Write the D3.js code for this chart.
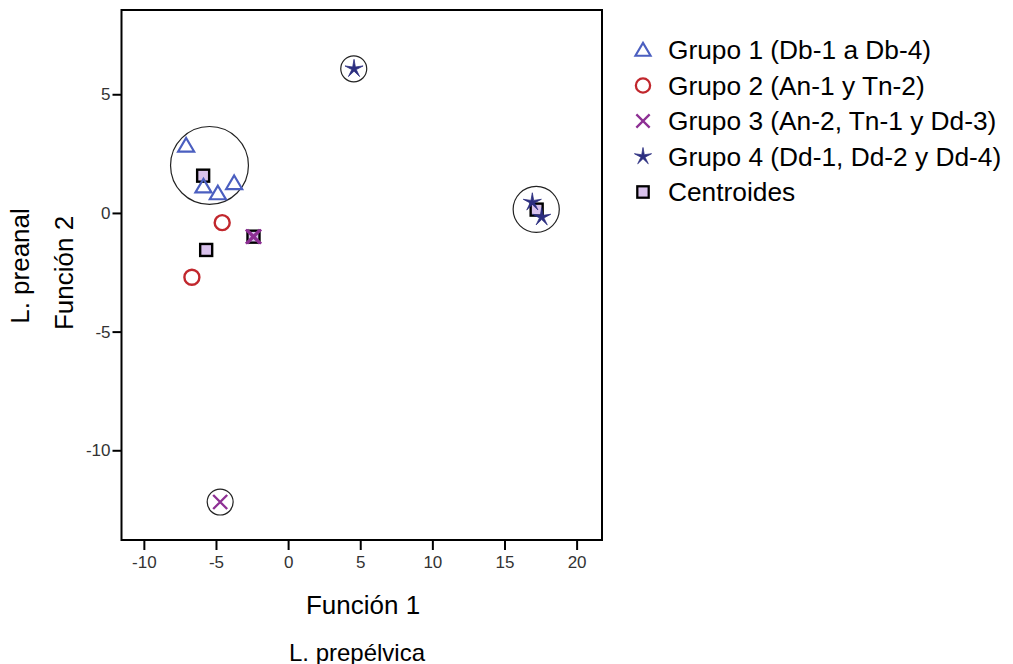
<!DOCTYPE html>
<html>
<head>
<meta charset="UTF-8">
<style>
  * { margin: 0; padding: 0; }
  html, body { width: 1013px; height: 664px; background: #fff; overflow: hidden; }
  svg { display: block; font-family: "Liberation Sans", Arial, sans-serif; }
</style>
<script src="https://cdn.jsdelivr.net/npm/d3@7"></script>
</head>
<body>
<svg id="chart" width="1013" height="664"></svg>
<script>
// --- data ---
var xTicks = [-10, -5, 0, 5, 10, 15, 20];
var yTicks = [5, 0, -5, -10];

var grupo1 = [[-7.07, 2.84], [-5.87, 1.12], [-4.87, 0.83], [-3.74, 1.26]];
var grupo2 = [[-4.57, -0.41], [-6.67, -2.71]];
var grupo3 = [[-2.45, -1.0], [-2.35, -1.0], [-4.71, -12.18]];
var grupo4 = [[4.57, 6.07], [16.93, 0.45], [17.58, -0.18]];
var centroides = [[-5.89, 1.57], [-5.68, -1.56], [-2.4, -1.0], [17.23, 0.14]];

// circled points: centre x, centre y, radius (in Función 1 units)
var circulos = [[-5.45, 2.0, 2.7], [4.55, 6.07, 0.9], [-4.71, -12.18, 0.9], [17.2, 0.15, 1.6]];

var legendLabels = [
  "Grupo 1 (Db-1 a Db-4)",
  "Grupo 2 (An-1 y Tn-2)",
  "Grupo 3 (An-2, Tn-1 y Dd-3)",
  "Grupo 4 (Dd-1, Dd-2 y Dd-4)",
  "Centroides"
];

var colors = { g1: "#4b5fc0", g2: "#c1272d", g3: "#8e3094", g4: "#2c2e80", cen: "#d9c2ec" };

var svg = d3.select("#chart");
var plotLeft = 121.5, plotRight = 602, plotTop = 10, plotBottom = 540;

var x = d3.scaleLinear().domain([-11.55, 21.76]).range([plotLeft, plotRight]);
var y = d3.scaleLinear().domain([-13.78, 8.55]).range([plotBottom, plotTop]);

// axes
var xAxis = d3.axisBottom(x).tickValues(xTicks).tickFormat(String).tickSize(10).tickPadding(6);
var yAxis = d3.axisLeft(y).tickValues(yTicks).tickFormat(String).tickSize(9).tickPadding(2);

var gx = svg.append("g").attr("transform", "translate(0," + plotBottom + ")").call(xAxis);
var gy = svg.append("g").attr("transform", "translate(" + plotLeft + ",0)").call(yAxis);
[gx, gy].forEach(function(g) {
  g.select(".domain").remove();
  g.selectAll(".tick line").attr("stroke", "#000").attr("stroke-width", 2);
  g.selectAll(".tick text").attr("fill", "#333").attr("font-size", "17px")
    .attr("font-family", "'Liberation Sans', Arial, sans-serif");
});

// frame
svg.append("rect")
  .attr("x", plotLeft).attr("y", plotTop)
  .attr("width", plotRight - plotLeft).attr("height", plotBottom - plotTop)
  .attr("fill", "none").attr("stroke", "#000").attr("stroke-width", 2);

// annotation circles
svg.append("g").selectAll("circle")
  .data(circulos).enter().append("circle")
  .attr("cx", function(d) { return x(d[0]); })
  .attr("cy", function(d) { return y(d[1]); })
  .attr("r", function(d) { return x(d[2]) - x(0); })
  .attr("fill", "none").attr("stroke", "#222").attr("stroke-width", 1.2);

// marker shapes
function triangle(g) {
  g.append("path").attr("d", "M0,-7.5L8,6L-8,6Z")
    .attr("fill", "none").attr("stroke", colors.g1).attr("stroke-width", 2.2);
}
function ring(g) {
  g.append("circle").attr("r", 7.5)
    .attr("fill", "none").attr("stroke", colors.g2).attr("stroke-width", 2.4);
}
function cross(g) {
  g.append("path").attr("d", "M-7,-7L7,7M-7,7L7,-7")
    .attr("fill", "none").attr("stroke", colors.g3).attr("stroke-width", 2.4);
}
function star(g) {
  var pts = [];
  for (var i = 0; i < 10; i++) {
    var a = -Math.PI / 2 + i * Math.PI / 5;
    var r = i % 2 === 0 ? 9.5 : 2.3;
    pts.push([r * Math.cos(a), r * Math.sin(a)]);
  }
  g.append("path").attr("d", "M" + pts.join("L") + "Z")
    .attr("fill", colors.g4).attr("stroke", colors.g4).attr("stroke-width", 0.8)
    .attr("stroke-linejoin", "round");
}
function square(g) {
  g.append("rect").attr("x", -6).attr("y", -6).attr("width", 12).attr("height", 12)
    .attr("fill", colors.cen).attr("stroke", "#000").attr("stroke-width", 2.4);
}

function plot(data, shape) {
  data.forEach(function(d) {
    var g = svg.append("g").attr("transform", "translate(" + x(d[0]) + "," + y(d[1]) + ")");
    shape(g);
  });
}

plot(centroides, square);
plot(grupo1, triangle);
plot(grupo2, ring);
plot(grupo3, cross);
plot(grupo4, star);

// legend
var shapes = [triangle, ring, cross, star, square];
var legend = svg.append("g");
legendLabels.forEach(function(label, i) {
  var yy = 50 + i * 35.5;
  var mg = legend.append("g").attr("transform", "translate(643," + yy + ") scale(0.95)");
  shapes[i](mg);
  legend.append("text").attr("x", 668).attr("y", yy).attr("dy", "0.36em")
    .attr("font-size", "26.3px").attr("fill", "#000").text(label);
});

// axis titles
svg.append("text").attr("x", 363).attr("y", 614).attr("text-anchor", "middle")
  .attr("font-size", "26px").attr("fill", "#000").text("Función 1");
svg.append("text").attr("x", 357).attr("y", 661).attr("text-anchor", "middle")
  .attr("font-size", "24px").attr("fill", "#000").text("L. prepélvica");
svg.append("text").attr("transform", "translate(73,273) rotate(-90)").attr("text-anchor", "middle")
  .attr("font-size", "26px").attr("fill", "#000").text("Función 2");
svg.append("text").attr("transform", "translate(29,266) rotate(-90)").attr("text-anchor", "middle")
  .attr("font-size", "26px").attr("fill", "#000").text("L. preanal");
</script>
</body>
</html>
